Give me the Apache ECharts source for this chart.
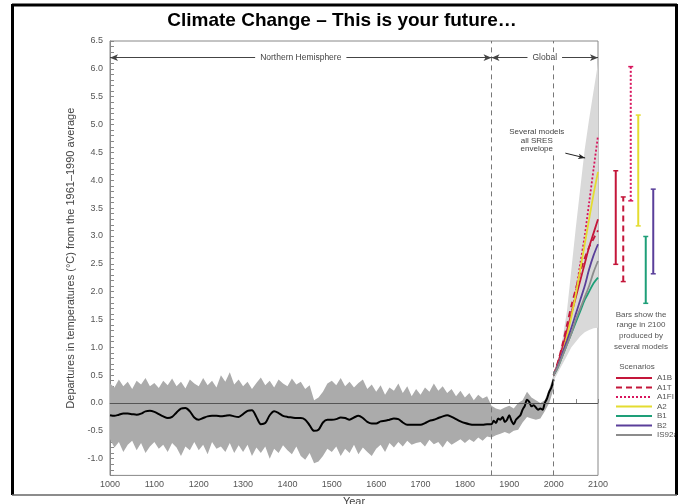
<!DOCTYPE html>
<html>
<head>
<meta charset="utf-8">
<script src="https://cdn.jsdelivr.net/npm/echarts@6/dist/echarts.min.js"></script>
<style>
html, body { margin: 0; padding: 0; background: #fff; }
#chart { width: 684px; height: 504px; }
</style>
</head>
<body>
<div id="chart"></div>
<script>
// Bande grise (incertitude), une valeur tous les 10 ans de 1000 à 2000
var bandStart = 1000;
var bandStep = 10;
var bandUpper = [
	0.35, 0.28, 0.42, 0.30, 0.38, 0.25, 0.40, 0.33, 0.45, 0.30,
	0.36, 0.27, 0.40, 0.32, 0.44, 0.30, 0.38, 0.26, 0.42, 0.35,
	0.30, 0.45, 0.32, 0.40, 0.28, 0.50, 0.38, 0.55, 0.33, 0.42,
	0.30, 0.38, 0.25, 0.36, 0.46, 0.32, 0.40, 0.28, 0.42, 0.35,
	0.30, 0.44, 0.33, 0.38, 0.25, 0.32, 0.05, 0.10, 0.20, 0.35,
	0.40, 0.32, 0.45, 0.30, 0.38, 0.28, 0.36, 0.42, 0.25, 0.33,
	0.20, 0.32, 0.15, 0.28, 0.22, 0.35, 0.18, 0.30, 0.12, 0.25,
	0.15, 0.28, 0.20, 0.35, 0.22, 0.30, 0.18, 0.25, 0.12, 0.22,
	0.10, 0.18, 0.05, 0.15, 0.08, 0.12, -0.05, -0.10, -0.12, -0.08,
	-0.05, -0.10, 0.00, 0.05, 0.20, 0.10, 0.05, 0.00, 0.05, 0.25,
	0.50
];
var bandLower = [
	-0.65, -0.80, -0.70, -0.88, -0.75, -0.68, -0.85, -0.72, -0.90, -0.78,
	-0.70, -0.82, -0.75, -0.88, -0.72, -0.80, -0.95, -0.78, -0.85, -0.70,
	-0.85, -0.75, -0.92, -0.70, -0.82, -0.78, -0.88, -0.72, -0.90, -0.76,
	-0.88, -0.75, -0.95, -0.80, -0.90, -0.78, -1.00, -0.82, -0.90, -0.76,
	-0.85, -0.92, -0.78, -0.95, -1.02, -0.90, -1.08, -1.05, -0.95, -0.82,
	-0.88, -0.78, -0.95, -0.82, -0.90, -0.75, -0.92, -0.80, -0.88, -0.95,
	-0.82, -0.75, -0.88, -0.72, -0.80, -0.70, -0.78, -0.68, -0.75, -0.72,
	-0.70, -0.78, -0.66, -0.74, -0.70, -0.80, -0.68, -0.75, -0.70, -0.65,
	-0.72, -0.65, -0.70, -0.62, -0.68, -0.60, -0.62, -0.58, -0.55, -0.52,
	-0.55, -0.50, -0.48, -0.35, -0.25, -0.28, -0.30, -0.28, -0.15, 0.00,
	0.25
];

// Courbe noire (moyenne lissée)
var histYears = [
	1000, 1010, 1020, 1030, 1040, 1050, 1060, 1070, 1080, 1090,
	1100, 1110, 1120, 1130, 1140, 1150, 1160, 1170, 1180, 1190,
	1200, 1210, 1220, 1230, 1240, 1250, 1260, 1270, 1280, 1290,
	1300, 1310, 1320, 1330, 1340, 1350, 1360, 1370, 1380, 1390,
	1400, 1410, 1420, 1430, 1440, 1450, 1460, 1470, 1480, 1490,
	1500, 1510, 1520, 1530, 1540, 1550, 1560, 1570, 1580, 1590,
	1600, 1610, 1620, 1630, 1640, 1650, 1660, 1670, 1680, 1690,
	1700, 1710, 1720, 1730, 1740, 1750, 1760, 1770, 1780, 1790,
	1800, 1810, 1820, 1830, 1840, 1850, 1860,
	1865, 1870, 1875, 1880, 1885, 1890, 1895, 1900, 1905, 1910,
	1915, 1920, 1925, 1930, 1935, 1940, 1945, 1950, 1955, 1960,
	1965, 1970, 1975, 1980, 1985, 1990, 1995, 2000
];
var histValues = [
	-0.22, -0.23, -0.21, -0.19, -0.19, -0.20, -0.21, -0.19, -0.15, -0.14,
	-0.16, -0.20, -0.24, -0.27, -0.25, -0.17, -0.10, -0.09, -0.15, -0.26,
	-0.30, -0.27, -0.24, -0.23, -0.23, -0.24, -0.23, -0.22, -0.24, -0.25,
	-0.20, -0.14, -0.13, -0.25, -0.38, -0.36, -0.22, -0.15, -0.18, -0.23,
	-0.25, -0.26, -0.27, -0.27, -0.30, -0.40, -0.50, -0.48, -0.35, -0.30,
	-0.30, -0.29, -0.26, -0.27, -0.30, -0.26, -0.23, -0.27, -0.34, -0.37,
	-0.37, -0.33, -0.32, -0.30, -0.28, -0.29, -0.35, -0.39, -0.39, -0.39,
	-0.39, -0.36, -0.32, -0.30, -0.27, -0.24, -0.22, -0.25, -0.29, -0.33,
	-0.36, -0.38, -0.39, -0.39, -0.39, -0.38, -0.38,
	-0.32, -0.36, -0.28, -0.30, -0.25, -0.34, -0.30, -0.22, -0.32, -0.38,
	-0.30, -0.26, -0.22, -0.12, -0.05, 0.06, 0.02, -0.06, -0.04, -0.08,
	-0.12, -0.10, -0.12, 0.00, 0.08, 0.20, 0.28, 0.42
];

// Projections 2000-2100
var projYears = [2000, 2010, 2020, 2030, 2040, 2050, 2060, 2070, 2080, 2090, 2100];
var envUpper = [0.55, 0.80, 1.15, 1.65, 2.40, 3.15, 3.85, 4.55, 5.10, 5.60, 6.10];
var envLower = [0.40, 0.55, 0.70, 0.85, 1.00, 1.10, 1.20, 1.27, 1.31, 1.34, 1.35];

var scenarios = ['A1B', 'A1T', 'A1FI', 'A2', 'B1', 'B2', 'IS92a'];
var a1b   = [0.50, 0.72, 1.00, 1.30, 1.60, 1.90, 2.20, 2.50, 2.80, 3.05, 3.30];
var a1t   = [0.50, 0.75, 1.05, 1.40, 1.75, 2.05, 2.35, 2.60, 2.80, 2.95, 3.10];
var a1fi  = [0.50, 0.70, 0.95, 1.25, 1.60, 2.00, 2.50, 3.00, 3.60, 4.20, 4.80];
var a2    = [0.50, 0.68, 0.90, 1.20, 1.55, 1.95, 2.40, 2.85, 3.30, 3.75, 4.15];
var b1    = [0.50, 0.65, 0.85, 1.05, 1.25, 1.45, 1.65, 1.85, 2.00, 2.15, 2.25];
var b2    = [0.50, 0.68, 0.90, 1.12, 1.35, 1.60, 1.85, 2.10, 2.40, 2.65, 2.85];
var is92a = [0.50, 0.65, 0.85, 1.05, 1.25, 1.50, 1.70, 1.90, 2.10, 2.35, 2.55];
var scenarioValues = [a1b, a1t, a1fi, a2, b1, b2, is92a];
var scenarioColors = ['#c4163a', '#c4163a', '#d8145c', '#e4dc30', '#1e9f78', '#5a3f9a', '#8c8c8c'];
var scenarioTypes = ['solid', [6, 4], [2, 2], 'solid', 'solid', 'solid', 'solid'];

// Barres : plage en 2100
var barNames = ['A1B', 'A1T', 'A1FI', 'A2', 'B1', 'B2'];
var barLow  = [2.49, 2.18, 3.63, 3.18, 1.79, 2.32];
var barHigh = [4.17, 3.70, 6.04, 5.17, 2.99, 3.84];

function pairs(xs, ys) {
	var out = [];
	for (var i = 0; i < ys.length; i++) out.push([xs[i], ys[i]]);
	return out;
}
function triples(xs, lo, hi) {
	var out = [];
	for (var i = 0; i < lo.length; i++) out.push([xs[i], lo[i], hi[i]]);
	return out;
}

// Polygone entre la borne basse et la borne haute
function bandRenderer(rows, color) {
	return function (params, api) {
		if (params.dataIndex !== 0) return null;
		var pts = [];
		for (var i = 0; i < rows.length; i++) pts.push(api.coord([rows[i][0], rows[i][2]]));
		for (var j = rows.length - 1; j >= 0; j--) pts.push(api.coord([rows[j][0], rows[j][1]]));
		return { type: 'polygon', shape: { points: pts }, style: { fill: color } };
	};
}

var bandYears = [];
for (var i = 0; i < bandUpper.length; i++) bandYears.push(bandStart + i * bandStep);

var font = 'Liberation Sans, Arial, sans-serif';
var chart = echarts.init(document.getElementById('chart'));

var bandRows = triples(bandYears, bandLower, bandUpper);
var envRows = triples(projYears, envLower, envUpper);

var series = [
	{ type: 'custom', z: 1, silent: true, clip: true, data: bandRows, encode: { x: 0, y: [1, 2] },
	  renderItem: bandRenderer(bandRows, '#ababab') },
	{ type: 'custom', z: 1, silent: true, clip: true, data: envRows, encode: { x: 0, y: [1, 2] },
	  renderItem: bandRenderer(envRows, '#d9d9d9') }
];

for (var s = 0; s < scenarios.length; s++) {
	series.push({
		name: scenarios[s],
		type: 'line',
		data: pairs(projYears, scenarioValues[s]),
		symbol: 'none',
		smooth: 0.3,
		z: 3,
		lineStyle: { color: scenarioColors[s], width: 1.8, type: scenarioTypes[s] },
		itemStyle: { color: scenarioColors[s] }
	});
}

var labelOnLine = { show: true, position: 'middle', verticalAlign: 'middle', distance: 0, color: '#444',
                    fontSize: 8.5, fontFamily: font, backgroundColor: '#fff', padding: [1, 5] };

series.push({
	type: 'line',
	data: pairs(histYears, histValues),
	symbol: 'none',
	smooth: 0.3,
	z: 4,
	lineStyle: { color: '#000', width: 2 },
	markLine: {
		silent: true,
		symbol: 'none',
		animation: false,
		label: { show: false },
		data: [
			{ yAxis: 0, lineStyle: { color: '#555', width: 1, type: 'solid' } },
			{ xAxis: 1860, lineStyle: { color: '#777', width: 1, type: [5, 4] } },
			{ xAxis: 2000, lineStyle: { color: '#777', width: 1, type: [5, 4] } },
			[
				{ coord: [1000, 6.2], symbol: 'arrow', symbolSize: [5, 8],
				  lineStyle: { color: '#444', width: 1, type: 'solid' },
				  label: Object.assign({ formatter: 'Northern Hemisphere' }, labelOnLine) },
				{ coord: [1860, 6.2], symbol: 'arrow', symbolSize: [5, 8] }
			],
			[
				{ coord: [1860, 6.2], symbol: 'arrow', symbolSize: [5, 8],
				  lineStyle: { color: '#444', width: 1, type: 'solid' },
				  label: Object.assign({ formatter: 'Global' }, labelOnLine) },
				{ coord: [2100, 6.2], symbol: 'arrow', symbolSize: [5, 8] }
			],
			[
				{ coord: [2014, 4.51], symbol: 'none', lineStyle: { color: '#222', width: 1, type: 'solid' } },
				{ coord: [2071, 4.40], symbol: 'arrow', symbolSize: [4, 7] }
			]
		]
	},
	markPoint: {
		silent: true,
		symbolSize: 0,
		animation: false,
		z: 6,
		data: [{
			coord: [1962, 4.71],
			label: { show: true, position: 'inside', formatter: 'Several models\nall SRES\nenvelope',
			         color: '#444', fontSize: 8, lineHeight: 8.5, fontFamily: font,
			         backgroundColor: '#fff', padding: [1, 1] }
		}]
	}
});

series.push({
	type: 'custom',
	xAxisIndex: 1,
	yAxisIndex: 1,
	data: barNames.map(function (n, i) { return [i, barLow[i], barHigh[i]]; }),
	encode: { x: 0, y: [1, 2] },
	renderItem: function (params, api) {
		var i = api.value(0);
		var lo = api.coord([i, api.value(1)]);
		var hi = api.coord([i, api.value(2)]);
		var st = { stroke: scenarioColors[i], lineWidth: 2,
		           lineDash: scenarioTypes[i] === 'solid' ? null : scenarioTypes[i] };
		var cap = { stroke: scenarioColors[i], lineWidth: 1.5 };
		return {
			type: 'group',
			children: [
				{ type: 'line', shape: { x1: lo[0], y1: lo[1], x2: hi[0], y2: hi[1] }, style: st },
				{ type: 'line', shape: { x1: lo[0] - 2.5, y1: lo[1], x2: lo[0] + 2.5, y2: lo[1] }, style: cap },
				{ type: 'line', shape: { x1: hi[0] - 2.5, y1: hi[1], x2: hi[0] + 2.5, y2: hi[1] }, style: cap }
			]
		};
	}
});

var option = {
	animation: false,
	textStyle: { fontFamily: font },
	title: {
		text: 'Climate Change \u2013 This is your future\u2026',
		left: 'center',
		top: 6,
		textStyle: { fontSize: 19, fontWeight: 'bold', color: '#000', fontFamily: font }
	},
	legend: {
		data: scenarios,
		orient: 'vertical',
		left: 615,
		top: 374,
		padding: 0,
		itemWidth: 36,
		itemHeight: 8,
		itemGap: 1.5,
		itemStyle: { opacity: 0 },
		textStyle: { fontSize: 8, color: '#555', fontFamily: font },
		selectedMode: false
	},
	grid: [
		{ left: 110, top: 41, width: 488, height: 434.4, show: true, borderColor: '#888', borderWidth: 1,
		  outerBoundsMode: 'none' },
		{ left: 612, top: 41, width: 45, height: 434.4, outerBoundsMode: 'none' }
	],
	xAxis: [
		{
			type: 'value', min: 1000, max: 2100, interval: 50,
			name: 'Year', nameLocation: 'middle', nameGap: 21,
			nameTextStyle: { fontSize: 11, color: '#444', fontFamily: font },
			axisLine: { lineStyle: { color: '#888' } },
			axisTick: { inside: true, length: 4, lineStyle: { color: '#888' } },
			axisLabel: { fontSize: 9, color: '#555', margin: 5,
			             formatter: function (v) { return v % 100 === 0 ? String(v) : ''; } },
			splitLine: { show: false }
		},
		{ type: 'category', gridIndex: 1, data: barNames, show: false }
	],
	yAxis: [
		{
			type: 'value', min: -1.3, max: 6.5, interval: 0.1,
			name: 'Departures in temperatures (\u00b0C) from the 1961\u20131990 average',
			nameLocation: 'middle', nameGap: 33,
			nameTextStyle: { fontSize: 11, color: '#444', fontFamily: font },
			axisLine: { show: true, lineStyle: { color: '#888' } },
			axisTick: { inside: true, length: 4, lineStyle: { color: '#888' } },
			axisLabel: { fontSize: 9, color: '#555', margin: 7,
			             formatter: function (v) {
			             	var k = Math.round(v * 10);
			             	return k % 5 === 0 ? (k / 10).toFixed(1) : '';
			             } },
			splitLine: { show: false }
		},
		{ type: 'value', gridIndex: 1, min: -1.3, max: 6.5, show: false, splitLine: { show: false } }
	],
	graphic: [
		{ type: 'text', x: 641, y: 309, silent: true,
		  style: { text: 'Bars show the\nrange in 2100\nproduced by\nseveral models', fontSize: 8, lineHeight: 10.7,
		           fill: '#555', align: 'center', verticalAlign: 'top', fontFamily: font } },
		{ type: 'text', x: 637, y: 367, silent: true,
		  style: { text: 'Scenarios', fontSize: 8, fill: '#555', align: 'center', verticalAlign: 'middle', fontFamily: font } },
		{ type: 'rect', z: 100, silent: true, shape: { x: 678, y: 0, width: 10, height: 504 }, style: { fill: '#fff' } },
		{ type: 'line', z: 101, silent: true, shape: { x1: 12, y1: 5, x2: 677, y2: 5 }, style: { stroke: '#000', lineWidth: 3 } },
		{ type: 'line', z: 101, silent: true, shape: { x1: 12.5, y1: 4, x2: 12.5, y2: 495 }, style: { stroke: '#000', lineWidth: 3 } },
		{ type: 'line', z: 101, silent: true, shape: { x1: 676.5, y1: 4, x2: 676.5, y2: 495 }, style: { stroke: '#000', lineWidth: 3 } },
		{ type: 'line', z: 101, silent: true, shape: { x1: 12, y1: 495, x2: 677, y2: 495 }, style: { stroke: '#666', lineWidth: 1.5 } }
	],
	series: series
};

chart.setOption(option);
</script>
</body>
</html>
